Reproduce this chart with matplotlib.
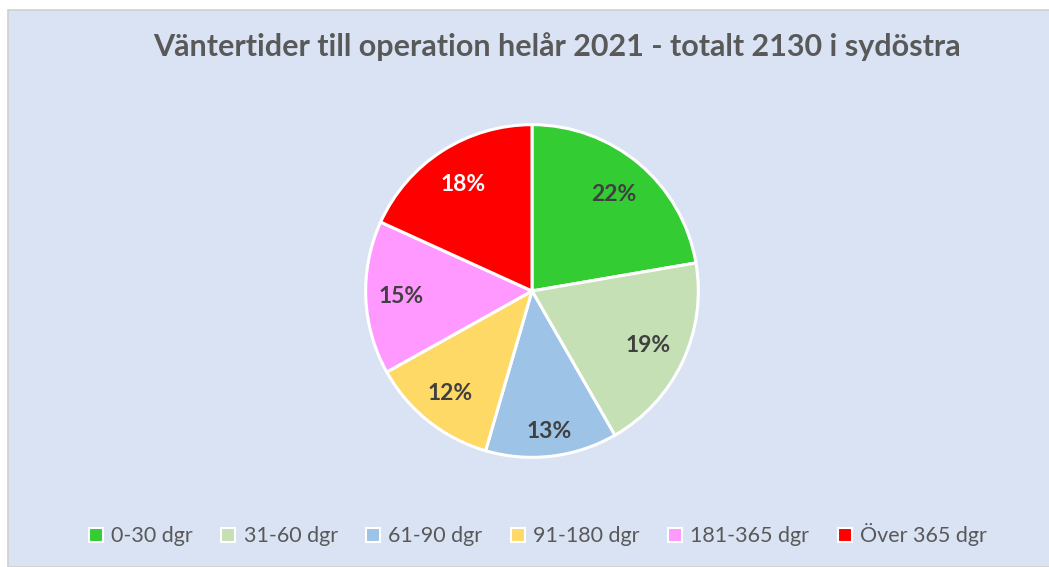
import matplotlib
matplotlib.use("Agg")
import numpy as np
import matplotlib.pyplot as plt
from matplotlib.patches import Rectangle
from matplotlib.lines import Line2D

categories = ["0-30 dgr", "31-60 dgr", "61-90 dgr", "91-180 dgr", "181-365 dgr", "Över 365 dgr"]
values = [22.3, 19.4, 12.8, 12.4, 14.9, 18.2]
colors = ["#33CC33", "#C5E0B4", "#9DC3E6", "#FFD966", "#FF99FF", "#FF0000"]
label_colors = ["#404040", "#404040", "#404040", "#404040", "#404040", "#FFFFFF"]
label_dist = [0.76, 0.77, 0.85, 0.79, 0.79, 0.76]
title = "Väntertider till operation helår 2021 - totalt 2130 i sydöstra"

plt.rcParams['font.family'] = ['Lato', 'DejaVu Sans']

W, H = 1049, 567
fig = plt.figure(figsize=(W / 100, H / 100), dpi=100)
fig.patch.set_facecolor("white")
bg = Rectangle((7.5 / W, 0), 1, 1 - 9.5 / H, transform=fig.transFigure,
               facecolor="#DAE3F3", edgecolor="#D0D0D0", linewidth=1.2, zorder=-10)
fig.add_artist(bg)

cx, cy, r = 532, 291, 168
ax = fig.add_axes([(cx - r) / W, 1 - (cy + r) / H, 2 * r / W, 2 * r / H])
ax.set_zorder(5)
ax.set_facecolor("none")
wedges, texts, autotexts = ax.pie(
    values, colors=colors, startangle=90, counterclock=False,
    autopct=lambda p: f"{p:.0f}%", pctdistance=0.78,
    wedgeprops=dict(edgecolor="white", linewidth=2.2),
    textprops=dict(fontsize=16.5, fontweight="bold"))
for w, t, c, d in zip(wedges, autotexts, label_colors, label_dist):
    t.set_color(c)
    ang = np.deg2rad((w.theta1 + w.theta2) / 2)
    t.set_position((d * np.cos(ang), d * np.sin(ang)))
ax.set_aspect("equal")
ax.set_xlim(-1.01, 1.01)
ax.set_ylim(-1.01, 1.01)

fig.text(557 / W, 1 - 47 / H, title, ha="center", va="center",
         fontsize=22, fontweight="bold", color="#595959", zorder=6)

handles = [Line2D([0], [0], marker="s", linestyle="none", markersize=10,
                  markerfacecolor=c, markeredgecolor="white", markeredgewidth=1.5)
           for c in colors]
leg = fig.legend(handles, categories, loc="center", bbox_to_anchor=(537 / W, 1 - 535 / H),
                 ncol=6, frameon=False, fontsize=15.5, handlelength=0.8,
                 handletextpad=0.3, columnspacing=1.25, labelcolor="#595959")
leg.set_zorder(6)

fig.savefig("out.png", dpi=100, facecolor=fig.get_facecolor())
